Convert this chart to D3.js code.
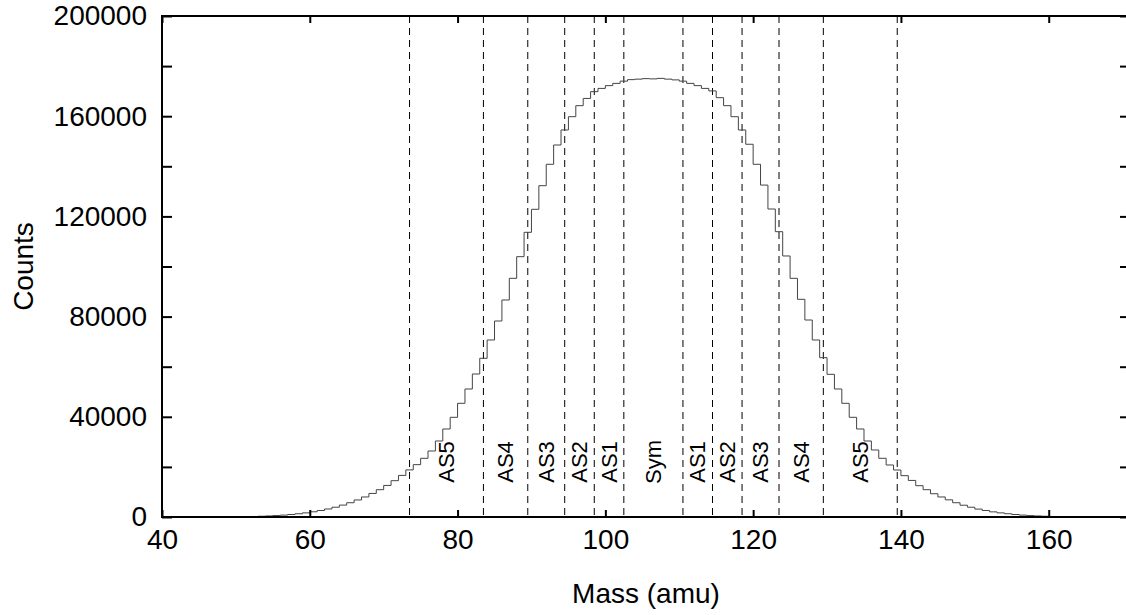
<!DOCTYPE html>
<html><head><meta charset="utf-8">
<script src="https://cdn.jsdelivr.net/npm/d3@7"></script>
<style>body{margin:0;background:#fff} svg{display:block}</style>
</head><body><svg id="c" width="1126" height="615"></svg>
<script>
// ---- data ----
const binStart = 50;   // lower edge of first bin (amu), bin width 1
const counts = [
  90,140,210,300,420,570,760,1000,1290,1650,2080,2600,3200,3900,4750,5700,6800,8000,9400,10900,12600,14500,16600,
  18800,20900,23430,26350,30340,35130,39800,45390,51100,57090,63350,70660,78240,86630,95280,103920,113650,122830,
  132260,140800,148500,154500,159800,164200,167100,169800,171100,172200,173100,174000,
  174600,174800,175000,174900,175100,174800,174500,
  174000,173100,172200,171100,170100,167400,164200,159800,154500,148800,140800,132500,122950,113900,104200,95280,
  86900,78640,70660,63600,56960,51100,45390,39800,35130,30340,26750,23430,20760,18760,
  16500,14600,12500,10900,9300,8000,6850,5700,4700,3900,3150,2600,2050,1650,1300,990,760,560,420,300,200,140,90
];
const dividers = [73.5, 83.5, 89.5, 94.5, 98.5, 102.5, 110.5, 114.5, 118.5, 123.5, 129.5, 139.5];
const regionLabels = ["AS5","AS4","AS3","AS2","AS1","Sym","AS1","AS2","AS3","AS4","AS5"];
const xTickValues = [40, 60, 80, 100, 120, 140, 160];
const yTickValues = [0, 40000, 80000, 120000, 160000, 200000];
const yMinorValues = [20000, 60000, 100000, 140000, 180000];
const xDomain = [40, 171];
const yDomain = [0, 200000];
const xTitle = "Mass (amu)";
const yTitle = "Counts";

// ---- layout ----
const FONT = "'Liberation Sans', Arial, sans-serif";
const pL = 162, pR = 1130, pT = 16, pB = 517;
const svg = d3.select("#c");
svg.append("rect").attr("width",1126).attr("height",615).attr("fill","#fff");

const x = d3.scaleLinear().domain(xDomain).range([pL, pR]);
const y = d3.scaleLinear().domain(yDomain).range([pB, pT]);
const fmt = d3.format("d");

// dashed region dividers
svg.append("g").selectAll("line").data(dividers).join("line")
  .attr("x1", d => x(d)).attr("x2", d => x(d))
  .attr("y1", y(yDomain[1])).attr("y2", y(0))
  .attr("stroke", "#000").attr("stroke-width", 1)
  .attr("stroke-dasharray", "7,5");

// region labels
const mids = regionLabels.map((t, i) => ({t, m: (dividers[i] + dividers[i+1]) / 2}));
svg.append("g").selectAll("text").data(mids).join("text")
  .attr("transform", d => `translate(${x(d.m)},462) rotate(-90)`)
  .attr("text-anchor", "middle").attr("dominant-baseline", "central")
  .attr("font-family", FONT).attr("font-size", 22).attr("fill", "#000")
  .text(d => d.t);

// histogram
const pts = counts.map((c, i) => [binStart + i, c]);
pts.push([binStart + counts.length, counts[counts.length - 1]]);
const line = d3.line().x(d => x(d[0])).y(d => y(d[1])).curve(d3.curveStepAfter);
svg.append("path").attr("d", line(pts))
  .attr("fill", "none").attr("stroke", "#444").attr("stroke-width", 1);

// axes
function style(g, labels) {
  g.select(".domain").remove();
  g.selectAll(".tick line").attr("stroke", "#000").attr("stroke-width", 2);
  g.selectAll(".tick text").attr("font-family", FONT).attr("font-size", 28).attr("fill", "#000");
  if (!labels) g.selectAll(".tick text").remove();
}
svg.append("g").attr("transform", `translate(0,${pB})`)
  .call(d3.axisBottom(x).tickValues(xTickValues).tickFormat(fmt).tickSizeInner(-7).tickSizeOuter(0).tickPadding(12))
  .call(g => style(g, true));
svg.append("g").attr("transform", `translate(0,${pT})`)
  .call(d3.axisTop(x).tickValues(xTickValues).tickSizeInner(-7).tickSizeOuter(0))
  .call(g => style(g, false));
svg.append("g").attr("transform", `translate(${pL},0)`)
  .call(d3.axisLeft(y).tickValues(yTickValues).tickFormat(fmt).tickSizeInner(-10).tickSizeOuter(0).tickPadding(15))
  .call(g => style(g, true));
svg.append("g").attr("transform", `translate(${pL},0)`)
  .call(d3.axisLeft(y).tickValues(yMinorValues).tickSizeInner(-10).tickSizeOuter(0))
  .call(g => style(g, false));
svg.append("g").attr("transform", `translate(${pR},0)`)
  .call(d3.axisRight(y).tickValues(yTickValues.concat(yMinorValues)).tickSizeInner(-10).tickSizeOuter(0))
  .call(g => style(g, false));

// frame
svg.append("rect").attr("x", pL).attr("y", pT)
  .attr("width", pR - pL).attr("height", pB - pT)
  .attr("fill", "none").attr("stroke", "#000").attr("stroke-width", 2);

// titles
svg.append("text").attr("x", (pL + pR) / 2).attr("y", 603)
  .attr("text-anchor", "middle").attr("font-family", FONT).attr("font-size", 28)
  .text(xTitle);
svg.append("text").attr("transform", `translate(33,${(pT + pB) / 2}) rotate(-90)`)
  .attr("text-anchor", "middle").attr("font-family", FONT).attr("font-size", 28)
  .text(yTitle);
</script>
</body></html>
